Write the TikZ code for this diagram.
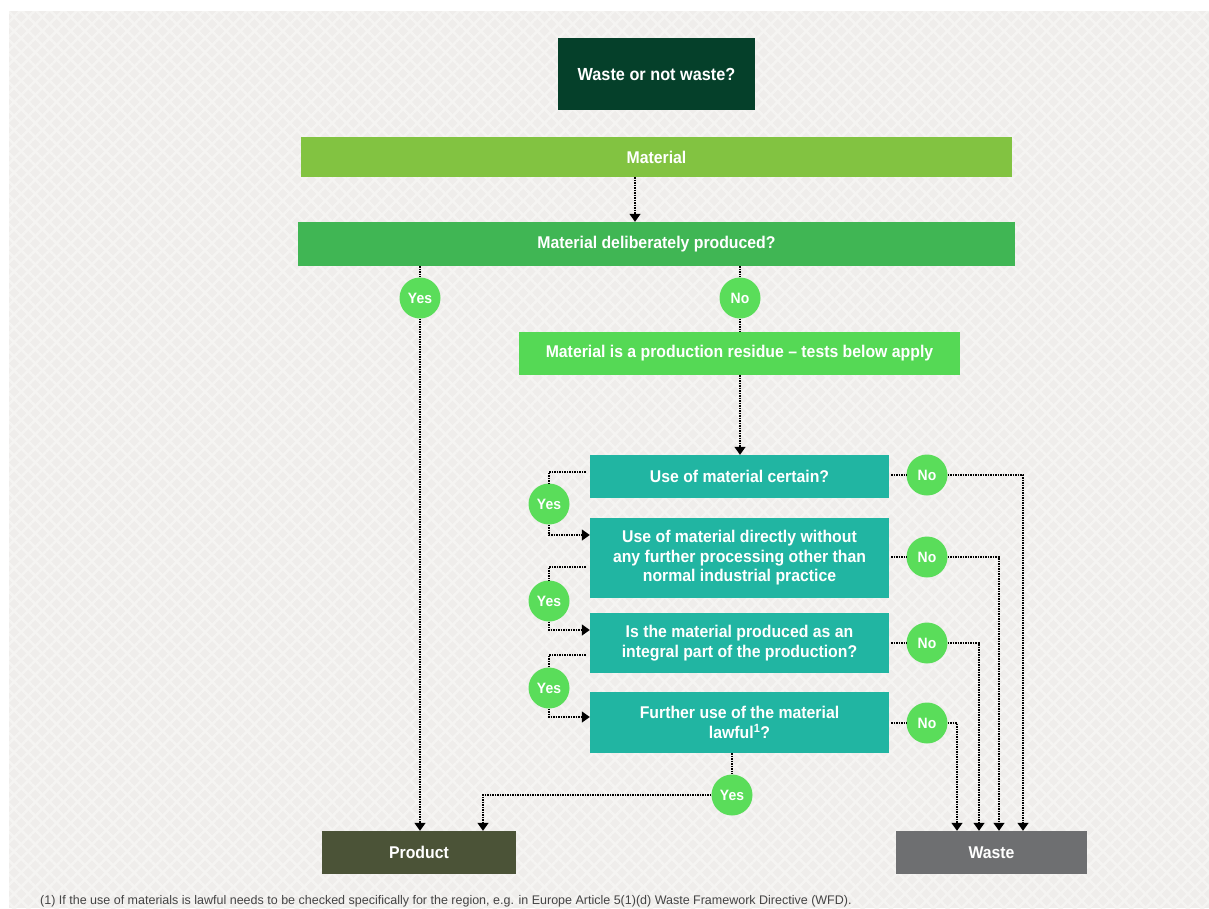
\documentclass[tikz,border=0pt]{standalone}
\usepackage{fontspec}
\setmainfont{Liberation Sans}
\newfontfamily\boxfont{Liberation Sans}[FakeStretch=0.93]
\newfontfamily\notefont{Liberation Sans}
\usetikzlibrary{arrows.meta,patterns.meta}

\definecolor{bgpaper}{HTML}{EFEDEB}
\definecolor{bgweave}{HTML}{F5F4F2}
\definecolor{titlegreen}{HTML}{05402A}
\definecolor{limegreen}{HTML}{82C341}
\definecolor{midgreen}{HTML}{40B654}
\definecolor{residgreen}{HTML}{55D955}
\definecolor{answergreen}{HTML}{5ADD5A}
\definecolor{testteal}{HTML}{21B5A2}
\definecolor{productolive}{HTML}{4B5337}
\definecolor{wastegrey}{HTML}{6E6F71}
\definecolor{notegrey}{HTML}{444444}

\tikzset{
  box/.style={rectangle, draw=none, text=white, align=center, inner sep=0pt,
    font=\boxfont\bfseries\fontsize{17}{19.5}\selectfont},
  answer/.style={circle, fill=answergreen, draw=none, minimum size=41pt, inner sep=0pt,
    text=white, font=\boxfont\bfseries\fontsize{15}{16}\selectfont},
  link/.style={line width=1.3pt, dash pattern=on 1.4pt off 1.1pt, black},
  arr/.style={link, -{Triangle[width=11pt,length=8pt]}},
}

\begin{document}
\begin{tikzpicture}[x=1pt, y=-1pt]
  \useasboundingbox (0,0) rectangle (1209,908);
  \fill[white] (0,0) rectangle (1209,908);
  \fill[bgpaper] (9,11) rectangle (1209,908);
  % faint woven texture of the paper
  \fill[pattern={Lines[angle=45,distance=10pt,line width=2.5pt]}, pattern color=bgweave] (9,11) rectangle (1209,908);
  \fill[pattern={Lines[angle=-45,distance=10pt,line width=2.5pt]}, pattern color=bgweave] (9,11) rectangle (1209,908);

  % column positions for the connectors
  \coordinate (cmat) at (635,0);
  \coordinate (cw1) at (1023,0);
  \coordinate (cw2) at (999,0);
  \coordinate (cw3) at (979,0);
  \coordinate (cw4) at (957,0);
  \coordinate (cprod) at (483,0);

  % boxes
  \node[box, fill=titlegreen, minimum width=197pt, minimum height=72pt,
        font=\boxfont\bfseries\fontsize{17.5}{19}\selectfont] (title) at (656.5,74) {Waste or not waste?};
  \node[box, fill=limegreen, minimum width=711pt, minimum height=40pt] (mat) at (656.5,157) {Material};
  \node[box, fill=midgreen, minimum width=717pt, minimum height=44pt] (delib) at (656.5,244) {Material deliberately produced?};
  \node[box, fill=residgreen, minimum width=441pt, minimum height=43pt] (resid) at (739.5,353.5) {Material is a production residue – tests below apply};
  \node[box, fill=testteal, minimum width=299pt, minimum height=43pt] (t1) at (739.5,476.5) {Use of material certain?};
  \node[box, fill=testteal, minimum width=299pt, minimum height=80pt] (t2) at (739.5,558) {Use of material directly without\\any further processing other than\\normal industrial practice};
  \node[box, fill=testteal, minimum width=299pt, minimum height=60pt] (t3) at (739.5,643) {Is the material produced as an\\integral part of the production?};
  \node[box, fill=testteal, minimum width=299pt, minimum height=61pt] (t4) at (739.5,722.5) {Further use of the material\\lawful\textsuperscript{1}?};
  \node[box, fill=productolive, minimum width=194pt, minimum height=43pt] (prod) at (419,852.5) {Product};
  \node[box, fill=wastegrey, minimum width=191pt, minimum height=43pt] (waste) at (991.5,852.5) {Waste};

  % answers
  \node[answer] (yA) at (420,298) {Yes};
  \node[answer] (nA) at (740,298) {No};
  \node[answer] (y1) at (549,504) {Yes};
  \node[answer] (y2) at (549,601) {Yes};
  \node[answer] (y3) at (549,688) {Yes};
  \node[answer] (y4) at (732,795) {Yes};
  \node[answer] (n1) at (927,475) {No};
  \node[answer] (n2) at (927,557) {No};
  \node[answer] (n3) at (927,643) {No};
  \node[answer] (n4) at (927,723) {No};

  % main stem
  \draw[arr] (mat.south -| cmat) -- (delib.north -| cmat);
  \draw[link] (delib.south -| yA) -- (yA);
  \draw[arr] (yA) -- (prod.north -| yA);
  \draw[link] (delib.south -| nA) -- (nA);
  \draw[link] (nA) -- (resid.north -| nA);
  \draw[arr] (resid.south -| nA) -- (t1.north -| nA);

  % yes chain on the left
  \draw[link] ([xshift=-4pt,yshift=4.5pt]t1.west) -| (y1);
  \draw[arr] (y1) |- ([yshift=23pt]t2.west);
  \draw[link] ([xshift=-4pt,yshift=-9pt]t2.west) -| (y2);
  \draw[arr] (y2) |- ([yshift=13pt]t3.west);
  \draw[link] ([xshift=-4pt,yshift=-12pt]t3.west) -| (y3);
  \draw[arr] (y3) |- ([yshift=5.5pt]t4.west);

  % no branches to waste
  \draw[link] ([xshift=2pt]t1.east |- n1) -- (n1);
  \draw[link] ([xshift=2pt]t2.east |- n2) -- (n2);
  \draw[link] ([xshift=2pt]t3.east |- n3) -- (n3);
  \draw[link] ([xshift=2pt]t4.east |- n4) -- (n4);
  \draw[arr] (n1) -| (waste.north -| cw1);
  \draw[arr] (n2) -| (waste.north -| cw2);
  \draw[arr] (n3) -| (waste.north -| cw3);
  \draw[arr] (n4) -| (waste.north -| cw4);

  % final yes to product
  \draw[link] (t4.south -| y4) -- (y4);
  \draw[arr] (y4) -| (prod.north -| cprod);

  % footnote
  \node[anchor=west, inner sep=0pt, text=notegrey, font=\notefont\fontsize{12.5}{14}\selectfont] (note) at (40,901)
    {(1) If the use of materials is lawful needs to be checked specifically for the region, e.g. in Europe Article 5(1)(d) Waste Framework Directive (WFD).};
\end{tikzpicture}
\end{document}
